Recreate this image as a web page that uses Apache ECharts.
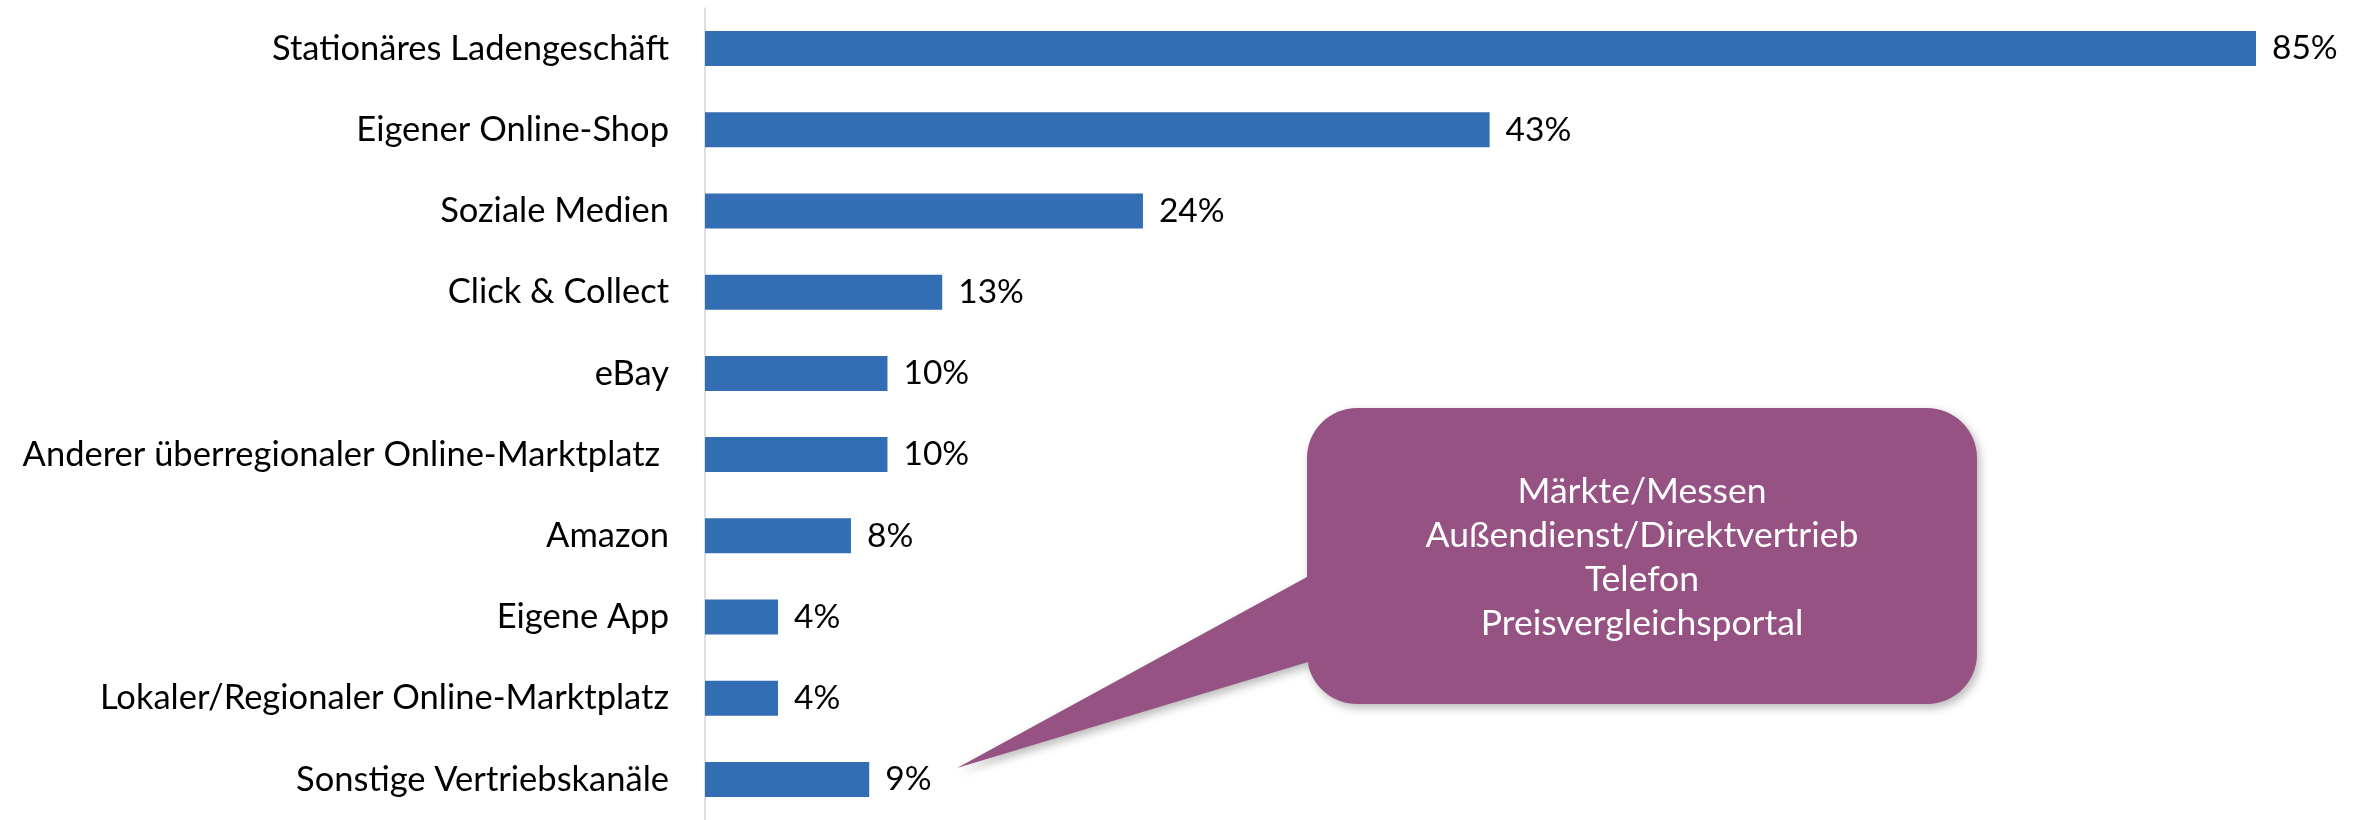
<!DOCTYPE html>
<html>
<head>
<meta charset="utf-8">
<script src="https://cdn.jsdelivr.net/npm/echarts@6/dist/echarts.min.js"></script>
<style>
  html, body { margin: 0; padding: 0; background: #ffffff; }
  #chart { width: 2364px; height: 820px; }
</style>
</head>
<body>
<div id="chart"></div>
<script>
// Vertriebskanäle (Anteil in %)
const categories = [
  'Stationäres Ladengeschäft',
  'Eigener Online-Shop',
  'Soziale Medien',
  'Click & Collect',
  'eBay',
  'Anderer überregionaler Online-Marktplatz ',
  'Amazon',
  'Eigene App',
  'Lokaler/Regionaler Online-Marktplatz',
  'Sonstige Vertriebskanäle'
];
const shares = [85, 43, 24, 13, 10, 10, 8, 4, 4, 9];

// Text of the speech bubble: the channels grouped under "Sonstige"
const otherChannels = [
  'Märkte/Messen',
  'Außendienst/Direktvertrieb',
  'Telefon',
  'Preisvergleichsportal'
];

const FONT = 'Lato, "Open Sans", sans-serif';
const BAR_COLOR = '#336DB3';
const BUBBLE_COLOR = '#955283';

const chart = echarts.init(document.getElementById('chart'));

// Speech bubble outline: rounded box plus a pointer towards the "Sonstige" bar,
// traced as one polygon so the drop shadow is cast by a single shape.
const bx = 1307, by = 408, bw = 670, bh = 296, r = 50;
const tip = [957, 768];
function arcPoints(cx, cy, a0, a1) {
  const pts = [];
  const n = 16;
  for (let i = 0; i <= n; i++) {
    const a = a0 + (a1 - a0) * i / n;
    pts.push([cx + r * Math.cos(a), cy + r * Math.sin(a)]);
  }
  return pts;
}
const PI = Math.PI;
const bubblePoints = [].concat(
  arcPoints(bx + r, by + r, PI, 1.5 * PI),               // top-left
  arcPoints(bx + bw - r, by + r, 1.5 * PI, 2 * PI),      // top-right
  arcPoints(bx + bw - r, by + bh - r, 0, 0.5 * PI),      // bottom-right
  arcPoints(bx + r, by + bh - r, 0.5 * PI, 0.92 * PI),   // bottom-left
  [[bx + 1, 662], tip, [bx, 577]]                         // pointer
);

chart.setOption({
  animation: false,
  backgroundColor: '#ffffff',
  grid: {
    left: 705,
    right: 108,
    top: 8,
    height: 817,
    containLabel: false
  },
  xAxis: {
    type: 'value',
    min: 0,
    max: 'dataMax',
    show: false
  },
  yAxis: {
    type: 'category',
    data: categories,
    inverse: true,
    axisLine: { show: true, lineStyle: { color: '#d4d4d4', width: 1.5 } },
    axisTick: { show: false },
    axisLabel: {
      margin: 36,
      fontFamily: FONT,
      fontSize: 34.5,
      color: '#000000'
    },
    splitLine: { show: false }
  },
  series: [{
    type: 'bar',
    data: shares,
    barWidth: 35,
    itemStyle: { color: BAR_COLOR },
    label: {
      show: true,
      position: 'right',
      distance: 16,
      formatter: '{c}%',
      fontFamily: FONT,
      fontSize: 33.5,
      color: '#000000'
    }
  }],
  graphic: [
    {
      type: 'polygon',
      shape: { points: bubblePoints },
      style: {
        fill: BUBBLE_COLOR,
        shadowBlur: 10,
        shadowColor: 'rgba(0,0,0,0.28)',
        shadowOffsetX: 3,
        shadowOffsetY: 4
      },
      z: 10
    },
    {
      type: 'text',
      x: bx + bw / 2,
      y: by + bh / 2 + 2,
      style: {
        text: otherChannels.join('\n'),
        fill: '#ffffff',
        font: '35.5px ' + FONT,
        lineHeight: 44,
        align: 'center',
        verticalAlign: 'middle'
      },
      z: 11
    }
  ]
});
</script>
</body>
</html>
